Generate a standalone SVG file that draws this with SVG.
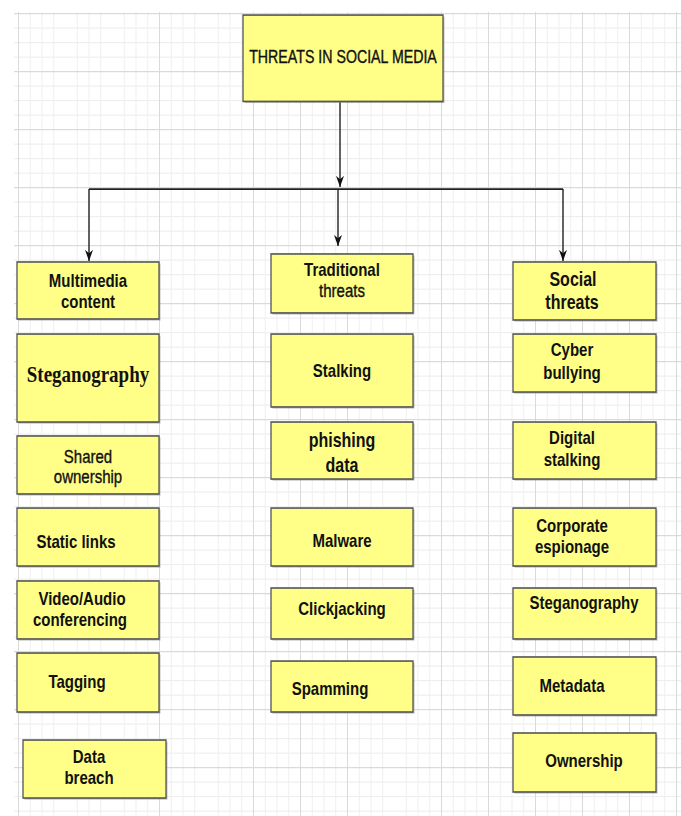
<svg xmlns="http://www.w3.org/2000/svg" width="681" height="816" viewBox="0 0 681 816">
<style>
.box{fill:#ffff88;stroke:#555;stroke-width:1.3}
.sh{fill:#8a8a8a;opacity:.55}
.t{font-family:"Liberation Sans",Arial,sans-serif;font-size:15px;font-weight:bold;fill:#111;text-anchor:middle}
.r{font-weight:normal;stroke:#111;stroke-width:0.3}
.s{font-family:"Liberation Serif","Times New Roman",serif;font-size:19px}
.c{fill:none;stroke:#222;stroke-width:1.4}
</style>
<defs>
<pattern id="grid" x="18" y="10.54" width="47" height="47" patternUnits="userSpaceOnUse">
<rect x="11.75" y="0" width="1" height="47" fill="#efefef"/>
<rect x="23.5" y="0" width="1" height="47" fill="#efefef"/>
<rect x="35.25" y="0" width="1" height="47" fill="#efefef"/>
<rect x="0" y="11.75" width="47" height="1" fill="#efefef"/>
<rect x="0" y="23.5" width="47" height="1" fill="#efefef"/>
<rect x="0" y="35.25" width="47" height="1" fill="#efefef"/>
<rect x="0" y="0" width="1" height="47" fill="#dadada"/>
<rect x="0" y="0" width="47" height="1" fill="#dadada"/>
</pattern>
<marker id="ah" viewBox="0 0 10 10" refX="10" refY="5" markerWidth="9" markerHeight="8" markerUnits="userSpaceOnUse" orient="auto" preserveAspectRatio="none">
<path d="M0,0 L10,5 L0,10 L3,5 z" fill="#111"/>
</marker>
</defs>
<rect width="681" height="816" fill="#fff"/>
<g transform="scale(1,1.234)">
<rect x="14" y="9.7" width="667" height="652" fill="url(#grid)"/>

<g id="connectors">
<path class="c" d="M340,82.3 V151.5" marker-end="url(#ah)"/>
<path class="c" d="M89,153.2 H563"/>
<path class="c" d="M89,153.2 V211.5" marker-end="url(#ah)"/>
<path class="c" d="M338,153.2 V199.4" marker-end="url(#ah)"/>
<path class="c" d="M563,153.2 V211.5" marker-end="url(#ah)"/>
</g>

<g id="root"><rect class="sh" x="244.5" y="13.5" width="200" height="70"/><rect class="box" x="243" y="12.2" width="200" height="70"/>
<text class="t r" x="343" y="51.3" style="font-size:14.2px">THREATS IN SOCIAL MEDIA</text></g>

<g id="multimedia"><rect class="sh" x="18.5" y="213.6" width="142" height="46.2"/><rect class="box" x="17" y="212.3" width="142" height="46.2"/>
<text class="t" x="88" y="232.2">Multimedia</text><text class="t" x="88" y="249.2">content</text></g>
<g id="steg1"><rect class="sh" x="18.5" y="272" width="142" height="71.3"/><rect class="box" x="17" y="270.7" width="142" height="71.3"/>
<text class="t s" x="88" y="309.6">Steganography</text></g>
<g id="shared"><rect class="sh" x="18.5" y="354.6" width="142" height="47"/><rect class="box" x="17" y="353.3" width="142" height="47"/>
<text class="t r" x="88" y="375.6">Shared</text><text class="t r" x="88" y="391.7">ownership</text></g>
<g id="static"><rect class="sh" x="18.5" y="413" width="142" height="47"/><rect class="box" x="17" y="411.7" width="142" height="47"/>
<text class="t" x="76" y="443.7">Static links</text></g>
<g id="video"><rect class="sh" x="18.5" y="472.1" width="142" height="47"/><rect class="box" x="17" y="470.8" width="142" height="47"/>
<text class="t" x="82" y="489.9">Video/Audio</text><text class="t" x="80" y="507">conferencing</text></g>
<g id="tagging"><rect class="sh" x="18.5" y="530.5" width="142" height="47.8"/><rect class="box" x="17" y="529.2" width="142" height="47.8"/>
<text class="t" x="77" y="557.2">Tagging</text></g>
<g id="breach"><rect class="sh" x="24.5" y="601" width="143" height="47"/><rect class="box" x="23" y="599.7" width="143" height="47"/>
<text class="t" x="89" y="618">Data</text><text class="t" x="89" y="635">breach</text></g>

<g id="traditional"><rect class="sh" x="272.5" y="207.1" width="142" height="47.8"/><rect class="box" x="271" y="205.8" width="142" height="47.8"/>
<text class="t" x="342" y="223.3">Traditional</text><text class="t r" x="342" y="240.8">threats</text></g>
<g id="stalking"><rect class="sh" x="272.5" y="272" width="142" height="59.1"/><rect class="box" x="271" y="270.7" width="142" height="59.1"/>
<text class="t" x="342" y="305.2">Stalking</text></g>
<g id="phishing"><rect class="sh" x="272.5" y="343.3" width="142" height="46.2"/><rect class="box" x="271" y="342" width="142" height="46.2"/>
<text class="t" x="342" y="362.5" style="font-size:16px">phishing</text><text class="t" x="342" y="382.4" style="font-size:16px">data</text></g>
<g id="malware"><rect class="sh" x="272.5" y="413" width="142" height="47"/><rect class="box" x="271" y="411.7" width="142" height="47"/>
<text class="t" x="342" y="442.9">Malware</text></g>
<g id="clickjacking"><rect class="sh" x="272.5" y="477.8" width="142" height="41.3"/><rect class="box" x="271" y="476.5" width="142" height="41.3"/>
<text class="t" x="342" y="498.1">Clickjacking</text></g>
<g id="spamming"><rect class="sh" x="272.5" y="537" width="142" height="41.3"/><rect class="box" x="271" y="535.7" width="142" height="41.3"/>
<text class="t" x="330" y="563.5">Spamming</text></g>

<g id="social"><rect class="sh" x="514.5" y="213.6" width="143" height="47"/><rect class="box" x="513" y="212.3" width="143" height="47"/>
<text class="t" x="573" y="231.8" style="font-size:16px">Social</text><text class="t" x="572" y="250.4" style="font-size:16px">threats</text></g>
<g id="cyber"><rect class="sh" x="514.5" y="272" width="143" height="47"/><rect class="box" x="513" y="270.7" width="143" height="47"/>
<text class="t" x="572" y="288.4">Cyber</text><text class="t" x="572" y="307.4">bullying</text></g>
<g id="digital"><rect class="sh" x="514.5" y="343.3" width="143" height="46.2"/><rect class="box" x="513" y="342" width="143" height="46.2"/>
<text class="t" x="572" y="359.5">Digital</text><text class="t" x="572" y="377.3">stalking</text></g>
<g id="corporate"><rect class="sh" x="514.5" y="413" width="143" height="47"/><rect class="box" x="513" y="411.7" width="143" height="47"/>
<text class="t" x="572" y="431.1">Corporate</text><text class="t" x="572" y="448.4">espionage</text></g>
<g id="steg2"><rect class="sh" x="514.5" y="477.8" width="143" height="41.3"/><rect class="box" x="513" y="476.5" width="143" height="41.3"/>
<text class="t" x="584" y="493.8">Steganography</text></g>
<g id="metadata"><rect class="sh" x="514.5" y="533.7" width="143" height="47"/><rect class="box" x="513" y="532.4" width="143" height="47"/>
<text class="t" x="572" y="560.4">Metadata</text></g>
<g id="ownership"><rect class="sh" x="514.5" y="595.3" width="143" height="47.8"/><rect class="box" x="513" y="594" width="143" height="47.8"/>
<text class="t" x="584" y="621.5">Ownership</text></g>
</g>
</svg>
